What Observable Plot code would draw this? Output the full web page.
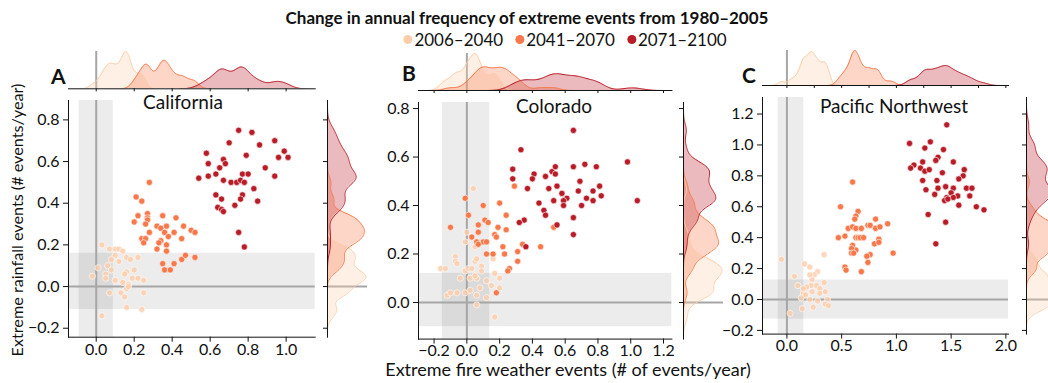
<!DOCTYPE html>
<html><head><meta charset="utf-8">
<script src="https://cdn.jsdelivr.net/npm/d3@7"></script>
<script src="https://cdn.jsdelivr.net/npm/@observablehq/plot@0.6"></script>
<style>
html,body{margin:0;padding:0;background:#fff;}
#root{position:relative;width:1048px;height:383px;overflow:hidden;font-family:Lato,"Open Sans",sans-serif;color:#111;}
.abs{position:absolute;white-space:nowrap;line-height:1;}
svg{overflow:visible;}
</style></head>
<body><div id="root"></div>
<script>
// ---------- data ----------
const periods = ["2006–2040", "2041–2070", "2071–2100"];
const periodColors = ["#fdcdaa", "#f7784a", "#b81c27"];
const regions = ["California", "Colorado", "Pacific Northwest"];
const panelLetters = ["A", "B", "C"];

const caP1 = [[0.03,0.20],[0.07,0.18],[0.10,0.18],[0.12,0.18],[0.14,0.17],[0.10,0.15],[0.08,0.13],[0.12,0.12],[0.16,0.14],[0.18,0.13],[0.22,0.14],[0.06,0.10],[0.01,0.09],[0.08,0.08],[0.16,0.07],[0.20,0.08],[-0.02,0.05],[0.05,0.06],[0.05,0.04],[0.10,0.03],[0.15,0.06],[0.19,0.04],[0.22,0.04],[0.25,0.03],[0.14,0.02],[0.17,0.01],[0.16,-0.01],[0.07,-0.03],[0.13,-0.03],[0.15,-0.05],[0.25,-0.03],[0.16,-0.10],[0.24,-0.11],[0.03,-0.14],[0.17,0.00]];
const caP2 = [[0.28,0.50],[0.21,0.43],[0.24,0.41],[0.22,0.34],[0.20,0.31],[0.27,0.35],[0.27,0.33],[0.27,0.32],[0.26,0.30],[0.32,0.29],[0.35,0.34],[0.37,0.29],[0.42,0.33],[0.46,0.29],[0.34,0.28],[0.36,0.26],[0.41,0.26],[0.50,0.27],[0.52,0.26],[0.28,0.26],[0.24,0.23],[0.26,0.23],[0.25,0.21],[0.34,0.22],[0.33,0.21],[0.38,0.24],[0.37,0.20],[0.32,0.18],[0.37,0.17],[0.45,0.23],[0.35,0.11],[0.36,0.08],[0.39,0.08],[0.41,0.11],[0.45,0.13],[0.47,0.15],[0.52,0.14]];
const caP3 = [[0.58,0.64],[0.59,0.59],[0.54,0.52],[0.59,0.53],[0.63,0.54],[0.65,0.57],[0.67,0.61],[0.68,0.59],[0.70,0.69],[0.75,0.75],[0.82,0.74],[0.86,0.68],[0.79,0.63],[0.77,0.54],[0.80,0.54],[0.67,0.51],[0.71,0.50],[0.74,0.50],[0.76,0.51],[0.78,0.50],[0.77,0.44],[0.76,0.42],[0.83,0.47],[0.85,0.41],[0.63,0.44],[0.66,0.42],[0.64,0.38],[0.66,0.37],[0.67,0.36],[0.73,0.39],[0.75,0.26],[0.78,0.19],[0.89,0.57],[0.94,0.53],[0.94,0.70],[0.99,0.65],[0.96,0.62],[1.01,0.62]];

const coP1 = [[0.04,0.47],[-0.01,0.25],[0.00,0.29],[0.05,0.23],[-0.07,0.19],[-0.07,0.17],[-0.06,0.16],[-0.16,0.14],[-0.13,0.14],[-0.01,0.13],[0.01,0.14],[0.05,0.17],[0.06,0.18],[0.03,0.14],[0.09,0.15],[0.16,0.18],[0.09,0.13],[0.17,0.12],[-0.04,0.10],[0.02,0.10],[0.06,0.10],[0.12,0.09],[0.20,0.10],[-0.12,0.03],[-0.10,0.04],[-0.06,0.04],[-0.01,0.04],[0.02,0.05],[0.06,0.03],[0.06,-0.01],[0.08,0.06],[0.12,0.02],[0.15,0.07],[0.20,0.06],[0.17,-0.06],[0.05,0.11]];
const coP2 = [[0.29,0.48],[0.20,0.41],[0.24,0.36],[0.19,0.31],[0.24,0.30],[0.17,0.28],[0.18,0.27],[0.16,0.20],[0.22,0.23],[0.23,0.20],[0.31,0.21],[0.31,0.17],[0.26,0.14],[0.25,0.13],[0.34,0.24],[0.45,0.23],[0.53,0.31],[0.18,0.04],[0.07,0.32],[-0.01,0.43],[-0.10,0.31],[0.10,0.25],[0.03,0.27],[0.06,0.25],[0.01,0.36],[0.10,0.40],[0.11,0.34],[0.13,0.33],[0.12,0.25],[0.07,0.24],[0.12,0.20],[0.07,0.29]];
const coP3 = [[0.65,0.71],[0.33,0.63],[0.98,0.58],[0.28,0.55],[0.28,0.51],[0.41,0.53],[0.40,0.51],[0.48,0.52],[0.52,0.54],[0.54,0.56],[0.54,0.53],[0.55,0.48],[0.50,0.47],[0.37,0.47],[0.58,0.45],[0.65,0.56],[0.72,0.57],[0.79,0.56],[0.69,0.50],[0.68,0.46],[0.81,0.48],[0.82,0.44],[0.77,0.46],[0.73,0.43],[0.61,0.43],[0.59,0.42],[0.59,0.40],[0.53,0.42],[0.77,0.42],[0.70,0.40],[0.44,0.41],[0.47,0.38],[0.48,0.36],[1.04,0.42],[0.65,0.35],[0.35,0.34],[0.32,0.33],[0.55,0.32],[0.65,0.28],[0.36,0.23]];

const pnP1 = [[-0.05,0.26],[0.34,0.29],[0.16,0.23],[0.21,0.21],[0.28,0.18],[0.25,0.16],[0.07,0.15],[0.23,0.13],[0.21,0.16],[0.10,0.09],[0.27,0.09],[0.34,0.11],[0.22,0.09],[0.18,0.08],[0.30,0.07],[0.35,0.05],[0.23,0.05],[0.15,0.04],[0.17,0.03],[0.13,0.01],[0.21,0.00],[0.28,-0.01],[0.37,0.00],[0.35,-0.03],[0.38,-0.04],[0.24,-0.05],[0.14,-0.06],[0.03,-0.09],[0.30,0.04],[0.15,0.07]];
const pnP2 = [[0.60,0.76],[0.49,0.60],[0.65,0.57],[0.63,0.54],[0.62,0.52],[0.81,0.52],[0.92,0.49],[0.56,0.46],[0.60,0.47],[0.63,0.46],[0.68,0.46],[0.74,0.48],[0.76,0.48],[0.81,0.46],[0.85,0.47],[0.47,0.40],[0.53,0.41],[0.63,0.40],[0.65,0.40],[0.67,0.40],[0.70,0.40],[0.84,0.39],[0.60,0.35],[0.63,0.32],[0.59,0.33],[0.59,0.30],[0.80,0.36],[0.84,0.37],[0.97,0.30],[0.76,0.29],[0.73,0.28],[0.74,0.24],[0.68,0.18],[0.53,0.21],[0.54,0.19],[0.61,0.30]];
const pnP3 = [[1.46,1.13],[1.12,1.01],[1.31,1.02],[1.26,0.98],[1.43,0.97],[1.38,0.92],[1.36,0.90],[1.16,0.87],[1.13,0.85],[1.24,0.89],[1.22,0.85],[1.26,0.83],[1.30,0.84],[1.52,0.89],[1.62,0.84],[1.42,0.82],[1.61,0.80],[1.24,0.77],[1.37,0.77],[1.57,0.78],[1.27,0.71],[1.38,0.72],[1.45,0.73],[1.52,0.72],[1.64,0.72],[1.69,0.72],[1.50,0.69],[1.35,0.68],[1.56,0.67],[1.46,0.66],[1.52,0.66],[1.67,0.67],[1.44,0.64],[1.47,0.65],[1.57,0.61],[1.73,0.60],[1.80,0.58],[1.29,0.55],[1.45,0.50],[1.36,0.36]];

// shaded "no significant change" bands [lo, hi]
const caBandX = [-0.09, 0.09], caBandY = [-0.11, 0.16];
const coBandX = [-0.15, 0.14], coBandY = [-0.10, 0.12];
const pnBandX = [-0.08, 0.155], pnBandY = [-0.127, 0.126];

// axis ticks
const caXTicks = [0, 0.2, 0.4, 0.6, 0.8, 1.0], caYTicks = [-0.2, 0, 0.2, 0.4, 0.6, 0.8];
const coXTicks = [-0.2, 0, 0.2, 0.4, 0.6, 0.8, 1.0, 1.2], coYTicks = [0, 0.2, 0.4, 0.6, 0.8];
const pnXTicks = [0, 0.5, 1.0, 1.5, 2.0], pnYTicks = [-0.2, 0, 0.2, 0.4, 0.6, 0.8, 1.0, 1.2];
const pnTopTicks = [0, 0.25, 0.5, 0.75, 1.0, 1.25, 1.5, 1.75, 2.0];

// ---------- layout ----------
const FONT = 'Lato, "Open Sans", sans-serif';
const panels = [
  {data:[caP1,caP2,caP3], bx:caBandX, by:caBandY, xt:caXTicks, yt:caYTicks, tt:caXTicks,
   xd:[-0.146,1.153], yd:[-0.243,0.893], x0:68.3, x1:315, y0:100, y1:336.7, topBase:88.3, topTop:51, rx:327.3,
   letter:[51,83.3], title:[183,108.5]},
  {data:[coP1,coP2,coP3], bx:coBandX, by:coBandY, xt:coXTicks, yt:coYTicks, tt:coXTicks,
   xd:[-0.295,1.251], yd:[-0.151,0.825], x0:418.3, x1:671.7, y0:101.7, y1:338.3, topBase:90, topTop:53, rx:682.7,
   letter:[402,80.7], title:[554,112.7]},
  {data:[pnP1,pnP2,pnP3], bx:pnBandX, by:pnBandY, xt:pnXTicks, yt:pnYTicks, tt:pnTopTicks,
   xd:[-0.223,2.024], yd:[-0.224,1.307], x0:762.3, x1:1008.3, y0:96.7, y1:333.3, topBase:85, topTop:50, rx:1026,
   letter:[742,82.7], title:[894,112.7]}
];

const root = document.getElementById("root");
function place(el, left, top){ el.style.position="absolute"; el.style.left=left+"px"; el.style.top=top+"px"; root.appendChild(el); }
// place text by its baseline (Lato: baseline ≈ 0.89em below the top of a line-height:1 box)
function text(str, left, baseline, size, weight, extra){
  const d=document.createElement("div"); d.className="abs"; d.textContent=str;
  d.style.fontSize=size+"px"; d.style.fontWeight=weight||400; d.style.left=left+"px"; d.style.top=(baseline-0.89*size)+"px";
  if(extra) Object.assign(d.style, extra);
  root.appendChild(d); return d;
}

function kde(vals){
  const n=vals.length, sd=d3.deviation(vals);
  const bw = 0.55*1.06*sd*Math.pow(n,-0.2);
  const a=d3.min(vals)-3*bw, b=d3.max(vals)+3*bw, N=160, out=[];
  for(let i=0;i<=N;i++){
    const v=a+(b-a)*i/N; let s=0;
    for(const u of vals){ const z=(v-u)/bw; s+=Math.exp(-0.5*z*z); }
    out.push({v, d: s/(n*bw*Math.sqrt(2*Math.PI))/3});
  }
  return out;
}

const fmt = d3.format(".1f");
const mL=60, mR=12, mT=10, mB=40;
panels.forEach((p,pi)=>{
  const all = p.data.flatMap((arr,k)=>arr.map(([x,y])=>({x,y,k})));
  const sc = Plot.plot({
    width:(p.x1-p.x0)+mL+mR, height:(p.y1-p.y0)+mT+mB,
    marginLeft:mL, marginRight:mR, marginTop:mT, marginBottom:mB,
    x:{domain:p.xd, label:null}, y:{domain:p.yd, label:null},
    style:{fontFamily:FONT, fontSize:"16px", color:"#111", background:"transparent", overflow:"visible"},
    marks:[
      Plot.rect([p.bx], {x1:d=>d[0], x2:d=>d[1], fill:"#000", fillOpacity:0.075}),
      Plot.rect([p.by], {y1:d=>d[0], y2:d=>d[1], fill:"#000", fillOpacity:0.075}),
      Plot.ruleX([0], {stroke:"#a6a6a6", strokeWidth:2}),
      Plot.ruleY([0], {stroke:"#a6a6a6", strokeWidth:2}),
      Plot.dot(all, {x:"x", y:"y", r:3.1, fill:d=>periodColors[d.k], fillOpacity:d=>d.k===0?0.8:1, stroke:"white", strokeWidth:0.6}),
      Plot.frame({anchor:"left", stroke:"#111"}),
      Plot.frame({anchor:"bottom", stroke:"#111"}),
      Plot.axisX({ticks:p.xt, tickFormat:fmt, tickSize:5, tickPadding:1, stroke:"#111"}),
      Plot.axisY({ticks:p.yt, tickFormat:fmt, tickSize:5, tickPadding:4, stroke:"#111"})
    ]
  });
  place(sc, p.x0-mL, p.y0-mT);

  const topD = [], rightD = [];
  p.data.forEach((arr,k)=>kde(arr.map(d=>d[0])).forEach(o=>topD.push({...o,k})));
  p.data.forEach((arr,k)=>kde(arr.map(d=>d[1])).forEach(o=>rightD.push({...o,k})));
  const tmT=2, tmB=8;
  const top = Plot.plot({
    width:(p.x1-p.x0)+mL+mR, height:(p.topBase-p.topTop)+tmT+tmB,
    marginLeft:mL, marginRight:mR, marginTop:tmT, marginBottom:tmB,
    x:{domain:p.xd, label:null}, y:{domain:[0, d3.max(topD,d=>d.d)], axis:null},
    style:{background:"transparent", overflow:"visible"},
    marks:[
      Plot.ruleX([0], {stroke:"#a6a6a6", strokeWidth:2}),
      Plot.areaY(topD, {x:"v", y:"d", z:"k", fill:d=>periodColors[d.k], fillOpacity:0.3, clip:true}),
      Plot.lineY(topD, {x:"v", y:"d", z:"k", stroke:d=>periodColors[d.k], strokeWidth:1, clip:true}),
      Plot.frame({anchor:"bottom", stroke:"#111"}),
      Plot.axisX({ticks:p.tt, tickFormat:()=>"", tickSize:3, stroke:"#111"})
    ]
  });
  place(top, p.x0-mL, p.topTop-tmT);

  const rW=40, rL=8, rR=4;
  const right = Plot.plot({
    width:rW+rL+rR, height:(p.y1-p.y0)+mT+mB,
    marginLeft:rL, marginRight:rR, marginTop:mT, marginBottom:mB,
    y:{domain:p.yd, label:null}, x:{domain:[0, d3.max(rightD,d=>d.d)*1.04], axis:null},
    style:{background:"transparent", overflow:"visible"},
    marks:[
      Plot.ruleY([0], {stroke:"#a6a6a6", strokeWidth:2}),
      Plot.areaX(rightD, {y:"v", x:"d", z:"k", fill:d=>periodColors[d.k], fillOpacity:0.3, clip:true}),
      Plot.lineX(rightD, {y:"v", x:"d", z:"k", stroke:d=>periodColors[d.k], strokeWidth:1, clip:true}),
      Plot.frame({anchor:"left", stroke:"#111"}),
      Plot.axisY({ticks:p.yt, tickFormat:()=>"", tickSize:4, stroke:"#111"})
    ]
  });
  place(right, p.rx-rL, p.y0-mT);

  text(panelLetters[pi], p.letter[0], p.letter[1], 21, 700);
  text(regions[pi], p.title[0], p.title[1], 19, 400, {transform:"translateX(-50%)"});
});

// titles & labels
text("Change in annual frequency of extreme events from 1980–2005", 527, 24, 17, 700, {transform:"translateX(-50%)"});
const leg = document.createElement("div");
leg.className="abs";
Object.assign(leg.style,{left:"565px", top:(46-0.89*17)+"px", transform:"translateX(-50%)", display:"flex", alignItems:"center", gap:"12px", fontSize:"17px"});
periods.forEach((p,i)=>{
  const item=document.createElement("span"); item.style.display="flex"; item.style.alignItems="center";
  const c=document.createElement("span");
  Object.assign(c.style,{display:"inline-block", width:"9px", height:"9px", borderRadius:"50%", background:periodColors[i], marginRight:"2px"});
  item.appendChild(c); item.appendChild(document.createTextNode(p)); leg.appendChild(item);
});
root.appendChild(leg);
text("Extreme fire weather events (# of events/year)", 568, 377.5, 18, 400, {transform:"translateX(-50%)", lineHeight:"0.9"});
const yl = document.createElement("div");
yl.className="abs"; yl.textContent="Extreme rainfall events (# events/year)";
Object.assign(yl.style,{fontSize:"16.2px", left:"17px", top:"220px", transform:"translate(-50%,-50%) rotate(-90deg)"});
root.appendChild(yl);
</script>
</body></html>
